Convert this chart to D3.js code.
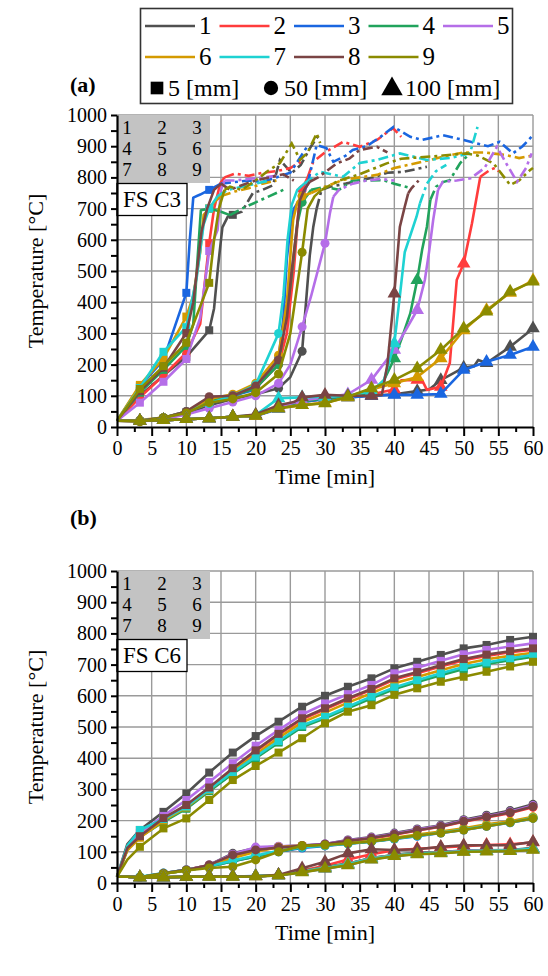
<!DOCTYPE html>
<html>
<head>
<meta charset="utf-8">
<script src="https://cdn.jsdelivr.net/npm/d3@7"></script>
<style>
  body { margin: 0; background: #fff; }
  text { font-family: "Liberation Serif", "Times New Roman", serif; fill: #000; }
</style>
</head>
<body>
<svg id="chart" width="548" height="976"></svg>
<script>
// series names 1..9, depths in mm
const seriesNames = ['1', '2', '3', '4', '5', '6', '7', '8', '9'];
const depthNames = ['5 [mm]', '50 [mm]', '100 [mm]'];
const colors = ['#505050', '#ff3c3c', '#1a66e0', '#21a35c', '#b56ee8', '#d49a00', '#1ed2d2', '#7a4444', '#8b8b00'];
const xTicks = [0, 5, 10, 15, 20, 25, 30, 35, 40, 45, 50, 55, 60];
const yTicks = [0, 100, 200, 300, 400, 500, 600, 700, 800, 900, 1000];
const markT = [3.3, 6.7, 10, 13.3, 16.7, 20, 23.3, 26.7, 30, 33.3, 36.7, 40, 43.3, 46.7, 50, 53.3, 56.7, 60];

// ---- (a) FS C3 : [time min, temperature C]
const a5 = [
  [[0,20],[3.3,100],[6.7,165],[10,225],[13.3,310],[14,380],[14.6,520],[15.2,640],[16,675],[16.7,680]],
  [[0,20],[3.3,95],[6.7,165],[10,238],[12,330],[12.6,450],[13.3,589],[14,700],[14.9,781],[15.5,800]],
  [[0,20],[3.3,130],[6.7,215],[10,430],[10.5,600],[11,735],[12,745],[13.3,760],[15,780]],
  [[0,20],[3.3,110],[6.7,183],[10,260],[11,330],[11.5,500],[12.1,695],[13.3,700],[15,690],[16.3,679]],
  [[0,20],[3.3,78],[6.7,145],[10,218],[12,350],[13.3,564],[14.5,631],[15,760],[15.5,790]],
  [[0,20],[3.3,135],[6.7,220],[10,354],[11,420],[12,560],[12.5,680],[13.3,700],[14,720],[15,740]],
  [[0,20],[3.3,125],[6.7,241],[10,320],[11.5,480],[12.5,650],[13.3,700],[14.5,740]],
  [[0,20],[3.3,115],[6.7,190],[10,301],[11,400],[12.2,628],[13,700],[14,760],[15,780]],
  [[0,20],[3.3,122],[6.7,195],[10,270],[13.3,462],[14,600],[14.7,700],[15.5,760]]
];
const a5dash = [
  [[16.7,680],[18,690],[19.6,750],[21,760],[22.5,775],[23.5,856],[25.2,814],[26.5,840],[28,900],[29.3,942]],
  [[15.5,800],[17,812],[19,805],[21,815],[23,820],[25,830],[26.5,850]],
  [[15,780],[17,785],[19,790],[21,785],[23,800],[25,815],[27.4,898]],
  [[16.3,679],[18,700],[20,720],[22,740],[24,760]],
  [[15.5,790],[17,790],[19,795],[21,800],[23,805]],
  [[15,740],[17,755],[19,765],[21,780],[23,790]],
  [[14.5,740],[16,760],[18,770],[20,780],[22,790]],
  [[15,780],[16.3,760],[18,775],[20,790],[22,800],[24,810],[25.5,790]],
  [[15.5,760],[16.3,770],[18,760],[20,790],[21.6,818],[23.5,846],[25.2,909],[26.4,856],[27.5,880],[28.8,941],[29.3,910]]
];
const a50 = [
  [[0,20],[3.3,18],[6.7,28],[10,42],[13.3,70],[16.7,90],[20,105],[23.3,124],[25,160],[26.7,243],[27.8,549],[28.3,640],[28.8,700]],
  [[0,20],[3.3,20],[6.7,30],[10,50],[13.3,85],[16.7,100],[20,125],[23.3,200],[24.5,300],[25.5,500],[26.2,700],[26.7,760],[27.5,800]],
  [[0,20],[3.3,20],[6.7,28],[10,45],[13.3,80],[16.7,100],[20,120],[23.3,220],[24,350],[24.5,540],[25,640],[25.5,700],[26.7,740],[27.5,780]],
  [[0,20],[3.3,20],[6.7,30],[10,48],[13.3,85],[16.7,100],[20,125],[23.3,200],[25,450],[26,650],[26.7,720],[28,760]],
  [[0,20],[3.3,18],[6.7,25],[10,40],[13.3,60],[16.7,80],[20,100],[23.3,140],[25,200],[26.7,321],[28,420],[30,589],[30.7,684],[31.2,738]],
  [[0,20],[3.3,22],[6.7,30],[10,48],[13.3,90],[16.7,105],[20,140],[23.3,230],[24.5,400],[25.4,663],[26,720],[26.7,740],[28,750]],
  [[0,20],[3.3,20],[6.7,30],[10,50],[13.3,75],[16.7,100],[20,135],[23.3,300],[24,420],[24.6,600],[25.2,712],[26,760],[27,780]],
  [[0,20],[3.3,20],[6.7,30],[10,50],[13.3,97],[16.7,100],[20,131],[23.3,215],[24.5,350],[25.2,500],[26.4,728],[27,760],[27.8,786]],
  [[0,20],[3.3,17],[6.7,30],[10,45],[13.3,78],[16.7,90],[20,110],[23.3,170],[25,300],[26.7,560],[27.5,700],[28.5,740],[29.5,760]]
];
const a50dash = [
  [[28.8,700],[29.5,760],[30.7,770],[33,780],[35,790],[37,800],[39,815],[41.3,818],[44.7,834]],
  [[27.5,800],[28.3,850],[30,880],[32.6,914],[35,898],[37.5,920],[39.8,958],[41,930]],
  [[27.5,780],[28.8,904],[30.2,894],[31.2,850],[33,870],[34,888],[36,900],[38,930],[39.9,962],[42.3,930],[44,920],[47,935],[50,920],[51.9,909],[53.5,900],[55.2,914],[57.1,877],[58.5,900],[60,935]],
  [[28,760],[30,770],[32,760],[34,790],[36,790],[38.4,791],[40,780],[42.3,766]],
  [[31.2,738],[32,760],[34,780],[36,790],[38,795],[40,790]],
  [[28,750],[30,770],[32.6,792],[35,800],[37.5,808],[40,830],[44,850],[47,866],[50,880],[53,880],[56,872],[58,862],[60,870]],
  [[27,780],[29.3,818],[32.6,802],[35,846],[37.5,856],[40.8,877],[44.7,856],[48,862],[50.9,877],[52,962]],
  [[27.8,786],[29,800],[31.7,845],[33.5,860],[35,888],[37.5,898],[39,880]],
  [[29.5,760],[32,790],[35,810],[38.9,845],[41,860],[44.7,866],[47,870],[50.4,877],[52,870],[54.3,845],[56.7,776],[58,790],[59.6,824],[60,830]]
];
const a100 = [
  [[0,20],[3.3,20],[6.7,22],[10,25],[13.3,28],[16.7,33],[20,36],[23.3,60],[26.7,80],[30,90],[33.3,95],[36.7,100],[40,105],[43.3,115],[45,120],[46.7,150],[50,190],[51.5,195],[52.1,215],[53.3,205],[56.7,257],[60,316]],
  [[0,20],[3.3,20],[6.7,22],[10,25],[13.3,28],[16.7,33],[20,36],[23.3,62],[26.7,82],[30,92],[33.3,98],[36.7,105],[40,120],[41,150],[43.3,151],[44,150],[44.7,119],[46.7,129],[48,205],[49,471],[50,524],[51.2,653],[52.4,802]],
  [[0,20],[3.3,20],[6.7,22],[10,25],[13.3,28],[16.7,33],[20,35],[23.3,58],[26.7,80],[30,90],[33.3,95],[36.7,100],[40,103],[43.3,103],[46.7,106],[50,183],[53.3,209],[56.7,231],[60,257]],
  [[0,20],[3.3,20],[6.7,22],[10,25],[13.3,28],[16.7,33],[20,36],[23.3,62],[26.7,82],[30,92],[33.3,98],[36.7,110],[38.5,150],[40,220],[41,280],[42.3,364],[43.3,471],[44,567],[44.7,642],[45.2,728]],
  [[0,20],[3.3,20],[6.7,22],[10,25],[13.3,28],[16.7,33],[20,36],[23.3,65],[26.7,85],[30,95],[33.3,105],[36.7,151],[40,247],[43.3,375],[44.4,471],[45,560],[45.6,663],[46.3,760]],
  [[0,20],[3.3,20],[6.7,22],[10,25],[13.3,28],[16.7,33],[20,36],[23.3,60],[26.7,70],[30,78],[33.3,95],[36.7,120],[40,140],[43.3,160],[46.7,220],[50,310],[53.3,375],[56.7,430],[60,470]],
  [[0,20],[3.3,20],[6.7,22],[10,25],[13.3,28],[16.7,33],[20,38],[23.3,92],[26.7,95],[30,97],[33.3,100],[36.7,115],[38.5,150],[40,268],[40.8,420],[41.5,560],[43.2,674],[43.7,717]],
  [[0,20],[3.3,20],[6.7,22],[10,25],[13.3,28],[16.7,33],[20,40],[23.3,70],[25.5,80],[26.7,95],[30,103],[33.3,100],[36.7,100],[38.2,103],[39,200],[40,428],[40.8,642],[41.5,706],[42,749]],
  [[0,20],[3.3,20],[6.7,22],[10,25],[13.3,28],[16.7,33],[20,36],[23.3,60],[26.7,70],[30,76],[33.3,97],[36.7,124],[40,151],[43.3,188],[46.7,247],[50,316],[53.3,370],[56.7,434],[60,466]]
];
const a100dash = [
  [],
  [[52.4,802],[53.8,824],[54.5,830],[55,820]],
  [],
  [[45.2,728],[46,770],[47,785],[48,791],[49.5,846],[50.9,877]],
  [[46.3,760],[47,786],[49,790],[51,797],[53,830],[54.8,898],[56,850],[57.7,786],[59,830],[59.8,877]],
  [],
  [[43.7,717],[44.7,780],[46,820],[47.5,840]],
  [[42,749],[42.5,766],[43.5,790]],
  []
];

// ---- (b) FS C6 : values at the times in tB
const tB = [0, 1.5, 3.3, 6.7, 10, 13.3, 16.7, 20, 23.3, 26.7, 30, 33.3, 36.7, 40, 43.3, 46.7, 50, 53.3, 56.7, 60];
const b5 = [
  [20,125,170,228,287,354,418,471,517,565,600,629,656,688,709,731,752,763,779,789],
  [20,110,150,205,248,304,366,422,475,525,557,589,619,652,672,694,714,728,740,748],
  [20,108,150,198,240,296,352,402,452,502,530,562,594,624,646,668,688,704,716,727],
  [20,108,148,196,238,294,350,400,450,500,528,560,592,622,644,666,686,702,714,725],
  [20,115,160,215,266,324,384,440,490,540,575,605,635,672,690,712,733,747,758,768],
  [20,105,145,200,242,298,358,412,465,515,546,578,608,640,660,682,702,717,728,738],
  [20,120,170,205,245,300,355,405,455,505,533,565,598,627,650,672,692,707,720,731],
  [20,112,150,208,250,306,368,425,478,528,560,592,622,656,676,698,718,732,743,752],
  [20,75,116,175,207,266,330,375,418,464,512,549,570,603,624,645,661,677,694,709]
];
const b50 = [
  [20,20,18,31,42,58,95,112,117,120,125,138,147,160,173,185,203,217,232,252],
  [20,20,18,31,42,57,88,105,113,118,123,134,143,155,168,180,196,210,224,243],
  [20,20,18,30,40,53,70,85,100,112,119,126,132,141,150,160,170,182,193,207],
  [20,20,18,30,40,53,70,85,100,115,120,127,133,142,152,162,172,184,195,210],
  [20,20,18,31,42,58,92,115,118,120,125,137,146,158,171,183,200,214,228,248],
  [20,20,18,30,40,55,80,100,115,120,122,128,135,145,155,165,175,188,198,212],
  [20,20,20,32,42,54,72,88,103,115,120,126,133,142,151,161,171,183,194,208],
  [20,20,18,31,42,58,90,106,114,119,124,135,144,156,169,181,198,212,226,245],
  [20,20,18,30,40,48,52,74,100,119,122,127,133,143,152,160,170,182,194,207]
];
const b100 = [
  [20,20,18,18,20,21,21,22,25,37,50,62,80,90,96,99,104,105,106,112],
  [20,20,18,18,20,21,21,22,25,40,55,75,92,105,110,114,118,122,124,130],
  [20,20,18,18,20,21,21,22,24,35,46,58,76,87,93,96,101,102,103,108],
  [20,20,18,18,20,21,21,22,25,38,50,62,80,90,95,98,103,104,104,111],
  [20,20,18,18,20,21,21,22,25,37,49,61,79,89,95,98,103,104,105,110],
  [20,20,18,18,20,21,21,22,25,36,48,60,78,88,94,97,101,103,104,108],
  [20,20,18,18,20,21,21,22,25,36,48,60,78,88,94,97,102,103,104,110],
  [20,20,18,18,20,21,21,21,26,47,68,95,108,106,108,116,121,121,121,132],
  [20,20,18,18,20,20,20,21,24,34,46,57,75,86,92,95,100,101,102,106]
];

const svg = d3.select('#chart');
const x = d3.scaleLinear().domain([0, 60]).range([117, 533]);
const symbols = [d3.symbolSquare, d3.symbolCircle, d3.symbolTriangle];
const symSize = [64, 64, 80];

function drawPanel(yRange, groups, tag, label, labelY) {
  const y = d3.scaleLinear().domain([0, 1000]).range(yRange);
  const g = svg.append('g');

  // grid
  g.append('g').selectAll('line')
    .data(xTicks.slice(1))
    .enter().append('line')
    .attr('x1', d => x(d)).attr('x2', d => x(d))
    .attr('y1', y(0)).attr('y2', y(1000))
    .attr('stroke', '#9a9a9a').attr('stroke-width', 1.4);
  g.append('g').selectAll('line')
    .data(yTicks.slice(1))
    .enter().append('line')
    .attr('x1', x(0)).attr('x2', x(60))
    .attr('y1', d => y(d)).attr('y2', d => y(d))
    .attr('stroke', '#9a9a9a').attr('stroke-width', 1.4);

  // inset box
  g.append('rect')
    .attr('x', x(0)).attr('y', y(1000))
    .attr('width', 93).attr('height', 68)
    .attr('fill', '#c3c3c3');
  seriesNames.forEach((s, i) => {
    g.append('text')
      .attr('x', x(0) + 10 + (i % 3) * 35)
      .attr('y', y(1000) + 19 + Math.floor(i / 3) * 21)
      .attr('text-anchor', 'middle')
      .style('font-size', '19px')
      .text(s);
  });
  g.append('rect')
    .attr('x', x(0)).attr('y', y(1000) + 68.5)
    .attr('width', 70).attr('height', 32)
    .attr('fill', '#fff').attr('stroke', '#000').attr('stroke-width', 1.3);
  g.append('text')
    .attr('x', x(0) + 35).attr('y', y(1000) + 92)
    .attr('text-anchor', 'middle')
    .style('font-size', '23px')
    .text(tag);

  // series
  const line = d3.line().x(d => x(d[0])).y(d => y(d[1]));
  groups.forEach((grp, k) => {
    grp.solid.forEach((pts, i) => {
      g.append('path')
        .attr('d', line(pts))
        .attr('fill', 'none')
        .attr('stroke', colors[i])
        .attr('stroke-width', 2.6)
        .attr('stroke-linejoin', 'round');
      if (grp.dash && grp.dash[i].length) {
        g.append('path')
          .attr('d', line(grp.dash[i]))
          .attr('fill', 'none')
          .attr('stroke', colors[i])
          .attr('stroke-width', 2.6)
          .attr('stroke-dasharray', '10,4,3,4');
      }
      g.selectAll(null)
        .data(pts.filter(p => markT.some(m => Math.abs(m - p[0]) < 0.05)))
        .enter().append('path')
        .attr('d', d3.symbol().type(symbols[k]).size(symSize[k]))
        .attr('transform', d => `translate(${x(d[0])},${y(d[1])})`)
        .attr('fill', colors[i]);
    });
  });

  // axes
  const xMinor = d3.range(2.5, 60, 5);
  g.append('g')
    .attr('transform', `translate(0,${y(0)})`)
    .call(d3.axisBottom(x).tickValues(xMinor).tickSize(5).tickFormat(''))
    .call(a => a.select('.domain').remove())
    .selectAll('line').attr('stroke', '#000').attr('stroke-width', 2);
  const xa = g.append('g')
    .attr('transform', `translate(0,${y(0)})`)
    .call(d3.axisBottom(x).tickValues(xTicks).tickSize(9).tickSizeOuter(0).tickPadding(5).tickFormat(d => d));
  xa.attr('font-family', null);
  xa.select('.domain').attr('stroke', '#000').attr('stroke-width', 2.2);
  xa.selectAll('line').attr('stroke', '#000').attr('stroke-width', 2);
  xa.selectAll('text').style('font-size', '20px');

  const yMinor = d3.range(50, 1000, 100);
  g.append('g')
    .attr('transform', `translate(${x(0)},0)`)
    .call(d3.axisLeft(y).tickValues(yMinor).tickSize(6).tickFormat(''))
    .call(a => a.select('.domain').remove())
    .selectAll('line').attr('stroke', '#000').attr('stroke-width', 2);
  const ya = g.append('g')
    .attr('transform', `translate(${x(0)},0)`)
    .call(d3.axisLeft(y).tickValues(yTicks).tickSize(6).tickSizeOuter(0).tickPadding(4).tickFormat(d => d));
  ya.attr('font-family', null);
  ya.select('.domain').attr('stroke', '#000').attr('stroke-width', 2.2);
  ya.selectAll('line').attr('stroke', '#000').attr('stroke-width', 2);
  ya.selectAll('text').style('font-size', '20px');

  // titles
  g.append('text')
    .attr('x', (x(0) + x(60)) / 2).attr('y', y(0) + 57)
    .attr('text-anchor', 'middle')
    .style('font-size', '22px')
    .text('Time [min]');
  g.append('text')
    .attr('transform', `translate(43,${(y(0) + y(1000)) / 2}) rotate(-90)`)
    .attr('text-anchor', 'middle')
    .style('font-size', '22px')
    .text('Temperature [°C]');
  g.append('text')
    .attr('x', 70).attr('y', labelY)
    .style('font-size', '22px').style('font-weight', 'bold')
    .text(label);
}

drawPanel([427, 115], [
  { solid: a5, dash: a5dash },
  { solid: a50, dash: a50dash },
  { solid: a100, dash: a100dash }
], 'FS C3', '(a)', 92);

const toPts = arr => arr.map(v => v.map((T, j) => [tB[j], T]));
drawPanel([883, 571], [
  { solid: toPts(b5) },
  { solid: toPts(b50) },
  { solid: toPts(b100) }
], 'FS C6', '(b)', 525);

// legend
const leg = svg.append('g');
leg.append('rect')
  .attr('x', 140.5).attr('y', 8.5).attr('width', 372).attr('height', 95)
  .attr('fill', '#fff').attr('stroke', '#333').attr('stroke-width', 1.6);
seriesNames.forEach((s, i) => {
  const cx = 145 + (i % 5) * 74.5;
  const cy = i < 5 ? 26 : 57;
  leg.append('line')
    .attr('x1', cx).attr('x2', cx + 50)
    .attr('y1', cy).attr('y2', cy)
    .attr('stroke', colors[i]).attr('stroke-width', 2.6);
  leg.append('text')
    .attr('x', cx + 54).attr('y', cy + 8)
    .style('font-size', '25px')
    .text(s);
});
const symX = [157, 271, 392];
const txtX = [168, 284, 405];
depthNames.forEach((d, k) => {
  leg.append('path')
    .attr('d', d3.symbol().type(symbols[k]).size(k === 2 ? 200 : 160))
    .attr('transform', `translate(${symX[k]},${k === 2 ? 89 : 88})`)
    .attr('fill', '#000');
  leg.append('text')
    .attr('x', txtX[k]).attr('y', 96)
    .style('font-size', '24px')
    .text(d);
});
</script>
</body>
</html>
